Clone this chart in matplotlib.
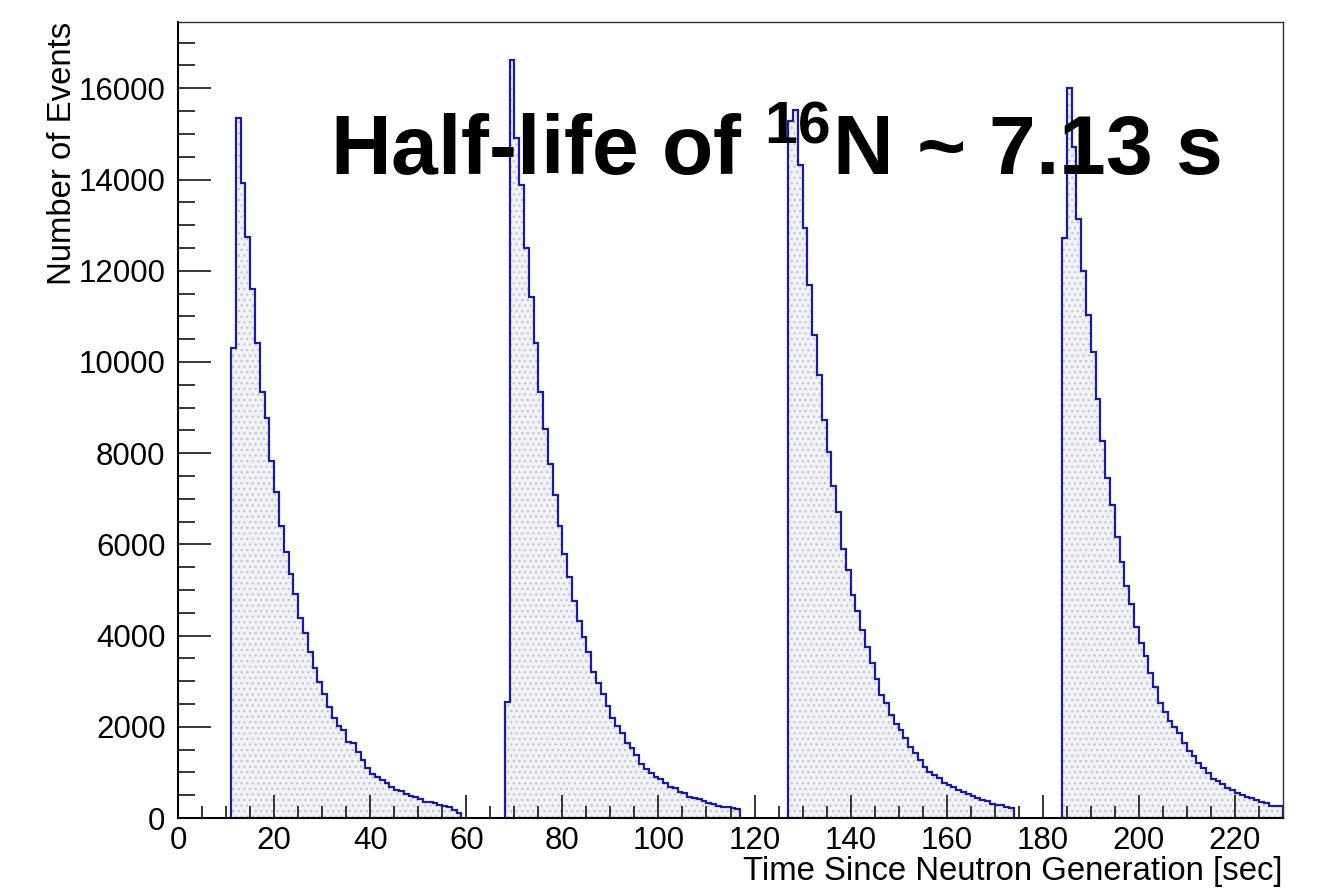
import numpy as np
import matplotlib.pyplot as plt
from matplotlib.ticker import MultipleLocator

plt.rcParams['font.family'] = ['Liberation Sans', 'DejaVu Sans']
plt.rcParams['mathtext.fontset'] = 'custom'
plt.rcParams['mathtext.rm'] = 'Liberation Sans'
plt.rcParams['mathtext.bf'] = 'Liberation Sans:bold'
plt.rcParams['hatch.linewidth'] = 1.0

# 1-second bins; each cycle is listed from its first filled bin
start_1 = 11
counts_1 = [10310, 15340, 13916, 12745, 11589, 10419, 9343, 8772, 7821, 7141,
            6394, 5823, 5356, 4909, 4383, 4053, 3651, 3285, 2992, 2715,
            2443, 2188, 2019, 1932, 1668, 1640, 1442, 1273, 1090, 966,
            907, 834, 761, 687, 614, 592, 519, 490, 468, 410,
            358, 343, 322, 290, 260, 240, 180, 110]

start_2 = 68
counts_2 = [2553, 16622, 14903, 13879, 12504, 11421, 10419, 9343, 8531, 7760,
            7090, 6394, 5787, 5275, 4763, 4324, 3979, 3636, 3211, 2956,
            2715, 2458, 2188, 2019, 1859, 1639, 1543, 1383, 1178, 1069,
            995, 907, 849, 776, 687, 651, 578, 556, 468, 432,
            410, 380, 336, 307, 270, 234, 234, 212, 190]

start_3 = 127
counts_3 = [15283, 15525, 14311, 12943, 11677, 10586, 9723, 8736, 8035, 7272,
            6701, 5904, 5428, 4895, 4529, 4126, 3746, 3395, 3058, 2700,
            2517, 2261, 2063, 1932, 1749, 1565, 1419, 1273, 1126, 1016,
            944, 871, 761, 724, 673, 614, 564, 519, 490, 432,
            395, 370, 315, 275, 275, 240, 210]

start_4 = 184
counts_4 = [12724, 16001, 14721, 13126, 11991, 11040, 10213, 9197, 8275, 7445,
            6870, 6153, 5604, 5092, 4697, 4199, 3848, 3556, 3189, 2868,
            2531, 2333, 2136, 2004, 1873, 1653, 1471, 1361, 1200, 1090,
            981, 849, 812, 739, 651, 614, 556, 505, 468, 432,
            395, 358, 322, 263, 263, 263]

cycles = [(start_1, counts_1), (start_2, counts_2),
          (start_3, counts_3), (start_4, counts_4)]

fig = plt.figure(figsize=(13.18, 8.91), dpi=100)
ax = fig.add_axes([0.1351, 0.0819, 0.8383, 0.8934])

line_col = '#1c1c99'
for start, vals in cycles:
    edges = np.arange(start, start + len(vals) + 1)
    ax.stairs(vals, edges, baseline=0, fill=True, facecolor='#f3f3f7',
              edgecolor='#c4c4d6', hatch='...', linewidth=0, zorder=1)
    ax.stairs(vals, edges, baseline=0, color=line_col, linewidth=1.6, zorder=2)

ymax = 1.05 * max(max(c) for _, c in cycles)
ax.set_xlim(0, 230)
ax.set_ylim(0, ymax)

ax.xaxis.set_major_locator(MultipleLocator(20))
ax.xaxis.set_minor_locator(MultipleLocator(5))
ax.yaxis.set_major_locator(MultipleLocator(2000))
ax.yaxis.set_minor_locator(MultipleLocator(500))

ax.tick_params(axis='both', which='both', direction='in', top=False, right=False,
               width=1.1, labelsize=22.5)
ax.tick_params(axis='y', which='major', length=23.8, pad=9)
ax.tick_params(axis='y', which='minor', length=12.2)
ax.tick_params(axis='x', which='major', length=16.6, pad=6)
ax.tick_params(axis='x', which='minor', length=8.3)

for side in ['left', 'bottom']:
    ax.spines[side].set_linewidth(1.5)
for side in ['top', 'right']:
    ax.spines[side].set_linewidth(1.0)
    ax.spines[side].set_color('#333333')

ax.set_xlabel('Time Since Neutron Generation [sec]', fontsize=23.7, loc='right')
ax.set_ylabel('Number of Events', fontsize=23.7, loc='top')
ax.xaxis.set_label_coords(1.0, -0.048)
ax.yaxis.set_label_coords(-0.091, 1.0)

fig.text(330 / 1318, 1 - 175 / 891, r'Half-life of $\mathbf{^{16}}$N ~ 7.13 s',
         fontsize=60.5, fontweight='bold', ha='left', va='baseline')

fig.savefig('out.png', dpi=100)
